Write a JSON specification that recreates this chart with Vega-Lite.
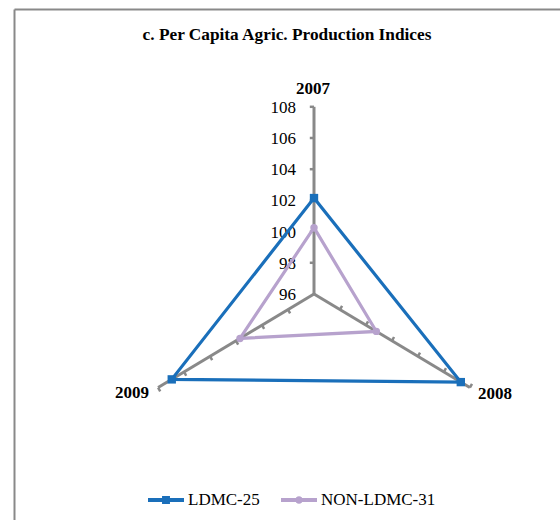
{
  "$schema": "https://vega.github.io/schema/vega-lite/v6.json",
  "autosize": {"type": "none"},
  "padding": {"left": 14, "top": 9, "right": 0, "bottom": 0},
  "width": 546,
  "height": 511,
  "background": "white",
  "title": {
    "text": "c. Per Capita Agric. Production Indices",
    "font": "Liberation Serif",
    "fontSize": 17.3,
    "fontWeight": "bold",
    "color": "#000000",
    "anchor": "middle",
    "frame": "group",
    "baseline": "alphabetic",
    "offset": -48
  },
  "config": {"view": {"stroke": null}, "font": "Liberation Serif"},
  "datasets": {
    "values": [
      {"series": "LDMC-25", "year": "2007", "value": 102.15},
      {"series": "LDMC-25", "year": "2008", "value": 107.3},
      {"series": "LDMC-25", "year": "2009", "value": 106.95},
      {"series": "NON-LDMC-31", "year": "2007", "value": 100.25},
      {"series": "NON-LDMC-31", "year": "2008", "value": 100.8},
      {"series": "NON-LDMC-31", "year": "2009", "value": 101.7}
    ],
    "years": [{"year": "2007"}, {"year": "2008"}, {"year": "2009"}],
    "ticks": [
      {"year": "2007", "v": 98}, {"year": "2007", "v": 100}, {"year": "2007", "v": 102},
      {"year": "2007", "v": 104}, {"year": "2007", "v": 106}, {"year": "2007", "v": 108},
      {"year": "2008", "v": 98}, {"year": "2008", "v": 100}, {"year": "2008", "v": 102},
      {"year": "2008", "v": 104}, {"year": "2008", "v": 106}, {"year": "2008", "v": 108},
      {"year": "2009", "v": 98}, {"year": "2009", "v": 100}, {"year": "2009", "v": 102},
      {"year": "2009", "v": 104}, {"year": "2009", "v": 106}, {"year": "2009", "v": 108}
    ],
    "labels": [{"v": 96}, {"v": 98}, {"v": 100}, {"v": 102}, {"v": 104}, {"v": 106}, {"v": 108}]
  },
  "layer": [
    {
      "data": {"name": "years"},
      "transform": [
        {"calculate": "(datum.year === '2007' ? 0 : datum.year === '2008' ? 120 : 240) * PI / 180", "as": "rad"},
        {"calculate": "12 * sin(datum.rad)", "as": "ex"},
        {"calculate": "12 * cos(datum.rad)", "as": "ey"},
        {"calculate": "0", "as": "zero"}
      ],
      "mark": {"type": "rule", "color": "#898989", "strokeWidth": 3},
      "encoding": {
        "x": {"field": "zero", "type": "quantitative", "scale": {"domain": [-20, 16.4], "nice": false, "zero": false},
          "axis": {"orient": "top", "domainColor": "#898989", "domainWidth": 2, "ticks": false, "labels": false, "grid": false, "title": null}},
        "y": {"field": "zero", "type": "quantitative", "scale": {"domain": [-14.49, 18.27], "nice": false, "zero": false},
          "axis": {"orient": "left", "domainColor": "#898989", "domainWidth": 2, "ticks": false, "labels": false, "grid": false, "title": null}},
        "x2": {"field": "ex"},
        "y2": {"field": "ey"}
      }
    },
    {
      "data": {"name": "ticks"},
      "transform": [
        {"calculate": "(datum.year === '2007' ? 0 : datum.year === '2008' ? 120 : 240) * PI / 180", "as": "rad"},
        {"calculate": "(datum.v - 96) * sin(datum.rad)", "as": "tx"},
        {"calculate": "(datum.v - 96) * cos(datum.rad)", "as": "ty"},
        {"calculate": "datum.tx - 0.28 * cos(datum.rad)", "as": "tx2"},
        {"calculate": "datum.ty + 0.28 * sin(datum.rad)", "as": "ty2"}
      ],
      "mark": {"type": "rule", "color": "#898989", "strokeWidth": 2.5},
      "encoding": {
        "x": {"field": "tx", "type": "quantitative"},
        "y": {"field": "ty", "type": "quantitative"},
        "x2": {"field": "tx2"},
        "y2": {"field": "ty2"}
      }
    },
    {
      "data": {"name": "labels"},
      "transform": [{"calculate": "datum.v - 96", "as": "ly"}, {"calculate": "0", "as": "zero"}],
      "mark": {"type": "text", "font": "Liberation Serif", "fontSize": 17, "color": "#000000", "align": "right", "baseline": "middle", "dx": -18, "dy": 1},
      "encoding": {
        "x": {"field": "zero", "type": "quantitative"},
        "y": {"field": "ly", "type": "quantitative"},
        "text": {"field": "v", "type": "quantitative"}
      }
    },
    {
      "data": {"name": "values"},
      "transform": [
        {"calculate": "(datum.year === '2007' ? 0 : datum.year === '2008' ? 120 : 240)", "as": "deg"},
        {"calculate": "datum.deg * PI / 180", "as": "rad"},
        {"calculate": "(datum.value - 96) * sin(datum.rad)", "as": "px"},
        {"calculate": "(datum.value - 96) * cos(datum.rad)", "as": "py"}
      ],
      "mark": {"type": "line", "interpolate": "linear-closed", "strokeWidth": 3.2},
      "encoding": {
        "x": {"field": "px", "type": "quantitative"},
        "y": {"field": "py", "type": "quantitative"},
        "order": {"field": "deg", "type": "quantitative"},
        "color": {
          "field": "series", "type": "nominal",
          "scale": {"domain": ["LDMC-25", "NON-LDMC-31"], "range": ["#1A6FBA", "#B7A2CD"]},
          "legend": {
            "orient": "none", "legendX": 134, "legendY": 473, "direction": "horizontal",
            "title": null, "labelFont": "Liberation Serif", "labelFontSize": 17, "labelColor": "#000000",
            "symbolSize": 1296, "symbolStrokeWidth": 0, "labelOffset": 4, "columnPadding": 21, "padding": 0,
            "symbolType": "M-1,-0.11H1V0.11H-1Z M-0.22,-0.22H0.22V0.22H-0.22Z",
            "encode": {
              "symbols": {
                "update": {
                  "shape": {"signal": "datum.value === 'LDMC-25' ? 'M-1,-0.11H1V0.11H-1Z M-0.22,-0.22H0.22V0.22H-0.22Z' : 'M-1,-0.11H1V0.11H-1Z M0.21,0A0.21,0.21 0 1,1 -0.21,0A0.21,0.21 0 1,1 0.21,0Z'"},
                  "fill": {"signal": "datum.value === 'LDMC-25' ? '#1A6FBA' : '#B7A2CD'"},
                  "stroke": {"value": "transparent"},
                  "strokeWidth": {"value": 0},
                  "size": {"value": 1296},
                  "opacity": {"value": 1},
                  "fillOpacity": {"value": 1}
                }
              }
            }
          }
        }
      }
    },
    {
      "data": {"name": "values"},
      "transform": [
        {"calculate": "(datum.year === '2007' ? 0 : datum.year === '2008' ? 120 : 240)", "as": "deg"},
        {"calculate": "datum.deg * PI / 180", "as": "rad"},
        {"calculate": "(datum.value - 96) * sin(datum.rad)", "as": "px"},
        {"calculate": "(datum.value - 96) * cos(datum.rad)", "as": "py"}
      ],
      "mark": {"type": "point", "filled": true, "opacity": 1},
      "encoding": {
        "x": {"field": "px", "type": "quantitative"},
        "y": {"field": "py", "type": "quantitative"},
        "color": {"condition": {"test": "datum.series === 'LDMC-25'", "value": "#1A6FBA"}, "value": "#B7A2CD"},
        "shape": {"condition": {"test": "datum.series === 'LDMC-25'", "value": "square"}, "value": "circle"},
        "size": {"condition": {"test": "datum.series === 'LDMC-25'", "value": 70}, "value": 55}
      }
    },
    {
      "data": {"name": "years"},
      "transform": [
        {"calculate": "(datum.year === '2007' ? 0 : datum.year === '2008' ? 120 : 240) * PI / 180", "as": "rad"},
        {"calculate": "12 * sin(datum.rad)", "as": "ex"},
        {"calculate": "12 * cos(datum.rad)", "as": "ey"}
      ],
      "layer": [
        {
          "transform": [{"filter": "datum.year === '2007'"}],
          "mark": {"type": "text", "font": "Liberation Serif", "fontSize": 17, "fontWeight": "bold", "color": "#000000", "align": "center", "baseline": "middle", "dx": -1, "dy": -18},
          "encoding": {"x": {"field": "ex", "type": "quantitative"}, "y": {"field": "ey", "type": "quantitative"}, "text": {"field": "year", "type": "nominal"}}
        },
        {
          "transform": [{"filter": "datum.year === '2008'"}],
          "mark": {"type": "text", "font": "Liberation Serif", "fontSize": 17, "fontWeight": "bold", "color": "#000000", "align": "center", "baseline": "middle", "dx": 25, "dy": 6},
          "encoding": {"x": {"field": "ex", "type": "quantitative"}, "y": {"field": "ey", "type": "quantitative"}, "text": {"field": "year", "type": "nominal"}}
        },
        {
          "transform": [{"filter": "datum.year === '2009'"}],
          "mark": {"type": "text", "font": "Liberation Serif", "fontSize": 17, "fontWeight": "bold", "color": "#000000", "align": "center", "baseline": "middle", "dx": -26, "dy": 5},
          "encoding": {"x": {"field": "ex", "type": "quantitative"}, "y": {"field": "ey", "type": "quantitative"}, "text": {"field": "year", "type": "nominal"}}
        }
      ]
    }
  ]
}
